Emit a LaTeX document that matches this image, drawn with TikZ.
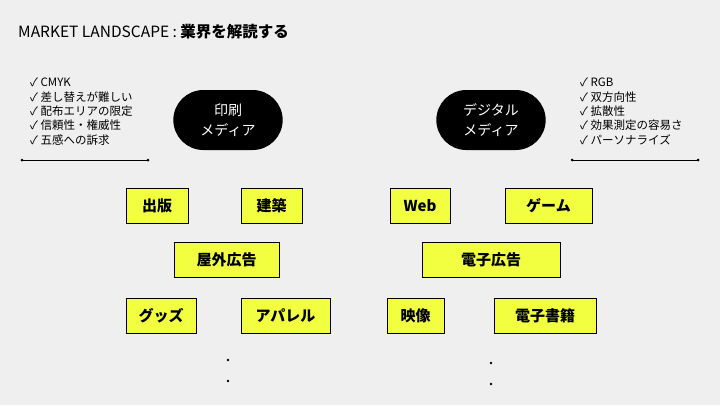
\documentclass[tikz,border=0pt]{standalone}
\usepackage{fontspec}
\setmainfont{Noto Sans CJK JP}
\usetikzlibrary{shapes.misc}
\definecolor{bg}{HTML}{EFEFEF}
\definecolor{hilite}{HTML}{F2FF40}
\tikzset{
  media/.style={rounded rectangle, fill=black, text=white, minimum width=116pt,
    minimum height=60pt, align=center, font=\fontsize{14}{20}\selectfont},
  field/.style={draw=black, fill=hilite, minimum height=35pt, inner sep=0pt,
    font=\fontsize{15}{17}\selectfont\bfseries},
  checks/.style={anchor=north west, align=left, inner sep=0pt,
    font=\fontsize{11.5}{14.3}\selectfont},
  pt/.style={circle, fill=black, inner sep=0pt, minimum size=3pt}
}
\begin{document}
\begin{tikzpicture}[x=1pt, y=-1pt]
  \fill[bg] (0,0) rectangle (720,405);
  \useasboundingbox (0,0) rectangle (720,405);
  \node[anchor=west, inner sep=0pt, font=\fontsize{15.5}{17}\selectfont] (title) at (18,32)
    {MARKET LANDSCAPE : \textbf{業界を解読する}};
  % print side
  \node[checks] (printlist) at (30,78)
    {✓ CMYK\\✓ 差し替えが難しい\\✓ 配布エリアの限定\\✓ 信頼性・権威性\\✓ 五感への訴求};
  \coordinate (pl1) at (22,160); \coordinate (pl2) at (148,160);
  \draw (pl1) -- (pl2);
  \fill (pl1) circle (1.5) (pl2) circle (1.5);
  \node[media] (print) at (228,120) {印刷\\メディア};
  % digital side
  \node[checks] (digitlist) at (580,78)
    {✓ RGB\\✓ 双方向性\\✓ 拡散性\\✓ 効果測定の容易さ\\✓ パーソナライズ};
  \coordinate (dl1) at (572,160); \coordinate (dl2) at (698,160);
  \draw (dl1) -- (dl2);
  \fill (dl1) circle (1.5) (dl2) circle (1.5);
  \node[media] (digital) at (491,120) {デジタル\\メディア};
  % fields
  \node[field, minimum width=62pt] (pub) at (157,206) {出版};
  \node[field, minimum width=61pt] (arch) at (271.5,206) {建築};
  \node[field, minimum width=105pt] (outdoor) at (226.5,260) {屋外広告};
  \node[field, minimum width=70pt] (goods) at (161,316) {グッズ};
  \node[field, minimum width=89pt] (apparel) at (285.5,316) {アパレル};
  \node[field, minimum width=60pt] (web) at (420,206) {Web};
  \node[field, minimum width=87pt] (game) at (548.5,206) {ゲーム};
  \node[field, minimum width=138pt] (eads) at (491,260) {電子広告};
  \node[field, minimum width=57pt] (video) at (415.5,316) {映像};
  \node[field, minimum width=102pt] (ebook) at (545,316) {電子書籍};
  % more
  \foreach \y in {360,381} \fill (228,\y) circle (1.4);
  \foreach \y in {363,384} \fill (491,\y) circle (1.4);
\end{tikzpicture}
\end{document}
